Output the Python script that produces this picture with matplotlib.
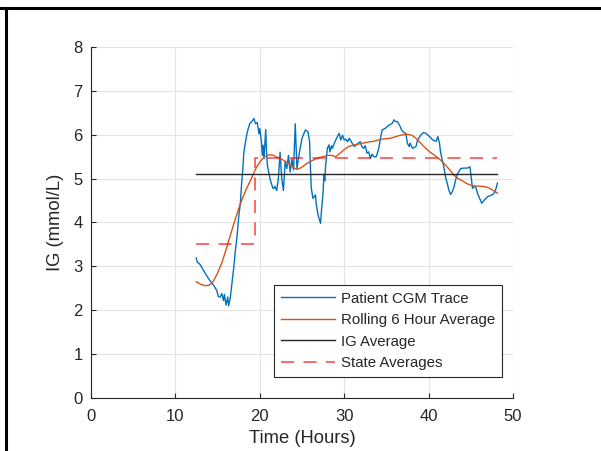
import matplotlib
matplotlib.use("Agg")
import matplotlib.pyplot as plt
from matplotlib.lines import Line2D

plt.rcParams['font.family'] = ['Liberation Sans', 'DejaVu Sans']
plt.rcParams['lines.scale_dashes'] = False

# CGM trace (hours, mmol/L)
cgm_time = [12.47, 12.6, 12.8, 13.0, 13.3, 13.6, 14.0, 14.3, 14.6, 14.9,
            15.1, 15.3, 15.5, 15.7, 15.8, 16.0, 16.2, 16.3, 16.5, 16.7,
            16.9, 17.1, 17.3, 17.5, 17.7, 17.85, 18.0, 18.1, 18.3, 18.5,
            18.8, 19.1, 19.3, 19.5, 19.7, 19.9, 20.0, 20.2, 20.3, 20.4,
            20.5, 20.7, 20.8, 20.9, 21.2, 21.5, 21.6, 21.8, 22.0, 22.2,
            22.4, 22.6, 22.8, 23.0, 23.2, 23.4, 23.6, 23.8, 24.0, 24.2,
            24.4, 24.7, 25.0, 25.4, 25.7, 25.9, 26.0, 26.1, 26.3, 26.6,
            26.7, 26.9, 27.2, 27.3, 27.5, 27.6, 27.7, 27.8, 28.0, 28.2,
            28.3, 28.5, 28.6, 28.9, 29.2, 29.4, 29.6, 29.8, 30.0, 30.2,
            30.4, 30.6, 30.9, 31.2, 31.6, 31.9, 32.1, 32.3, 32.5, 32.7,
            32.9, 33.1, 33.3, 33.5, 33.8, 34.1, 34.3, 34.5, 34.9, 35.3,
            35.7, 35.9, 36.1, 36.3, 36.6, 36.8, 37.1, 37.3, 37.5, 37.7,
            37.8, 38.1, 38.5, 38.7, 39.1, 39.4, 39.7, 40.1, 40.5, 40.9,
            41.1, 41.3, 41.4, 41.8, 42.0, 42.2, 42.4, 42.6, 42.8, 43.0,
            43.2, 43.4, 43.8, 44.2, 44.6, 44.9, 45.1, 45.2, 45.4, 45.6,
            45.8, 46.1, 46.3, 46.6, 47.0, 47.4, 47.6, 47.8, 48.0, 48.15]
cgm_ig = [3.19, 3.09, 3.07, 3.02, 2.92, 2.82, 2.70, 2.62, 2.55, 2.45,
          2.31, 2.30, 2.38, 2.22, 2.36, 2.12, 2.30, 2.10, 2.28, 2.61,
          2.95, 3.35, 3.68, 4.13, 4.45, 4.90, 5.25, 5.58, 5.83, 6.05,
          6.25, 6.31, 6.37, 6.25, 6.28, 6.02, 6.14, 5.83, 5.53, 5.76,
          5.45, 6.12, 5.60, 5.30, 5.00, 4.81, 4.77, 4.82, 4.73, 5.00,
          5.60, 5.00, 4.73, 5.38, 5.23, 5.53, 5.15, 5.45, 5.20, 6.25,
          5.23, 5.61, 5.92, 6.11, 6.07, 5.84, 5.24, 4.78, 4.55, 4.63,
          4.40, 4.17, 3.98, 4.25, 4.70, 5.10, 4.95, 5.30, 5.69, 5.77,
          5.61, 5.75, 5.69, 5.84, 5.96, 6.03, 5.88, 5.99, 5.88, 5.90,
          5.84, 5.92, 5.82, 5.73, 5.80, 5.84, 5.73, 5.69, 5.75, 5.58,
          5.61, 5.46, 5.56, 5.50, 5.50, 5.69, 5.92, 6.11, 6.15, 6.22,
          6.26, 6.34, 6.30, 6.30, 6.20, 6.11, 6.05, 6.03, 5.80, 5.73,
          5.81, 5.69, 5.73, 5.88, 6.00, 6.05, 6.03, 5.96, 5.88, 5.85,
          5.96, 5.80, 5.62, 5.27, 5.04, 4.90, 4.74, 4.64, 4.70, 4.80,
          4.97, 5.10, 5.23, 5.24, 5.24, 5.27, 4.95, 4.78, 4.82, 4.80,
          4.66, 4.53, 4.44, 4.51, 4.59, 4.62, 4.64, 4.68, 4.78, 4.90]

# rolling 6 hour average
roll_time = [12.47, 13.0, 13.5, 14.0, 14.5, 15.0, 15.5, 16.0, 16.5, 17.0,
             17.5, 18.0, 18.5, 19.0, 19.5, 20.0, 20.5, 21.0, 21.5, 22.0,
             22.5, 23.0, 23.5, 24.0, 24.4, 24.8, 25.2, 25.6, 26.0, 26.5,
             27.0, 27.5, 28.0, 28.5, 29.0, 29.5, 30.0, 30.5, 31.0, 31.5,
             32.0, 32.5, 33.0, 33.5, 34.0, 34.5, 35.0, 35.5, 36.0, 36.5,
             37.0, 37.5, 38.0, 38.5, 39.0, 39.5, 40.0, 40.5, 41.0, 41.5,
             42.0, 42.5, 43.0, 43.5, 44.0, 44.5, 45.0, 45.5, 46.0, 46.5,
             47.0, 47.5, 48.15]
roll_ig = [2.65, 2.59, 2.56, 2.57, 2.66, 2.85, 3.08, 3.38, 3.70, 4.02,
           4.32, 4.58, 4.80, 5.00, 5.22, 5.38, 5.49, 5.54, 5.54, 5.49,
           5.45, 5.40, 5.33, 5.25, 5.21, 5.24, 5.29, 5.35, 5.39, 5.44,
           5.48, 5.50, 5.53, 5.53, 5.50, 5.58, 5.66, 5.73, 5.76, 5.78,
           5.80, 5.82, 5.84, 5.85, 5.88, 5.90, 5.91, 5.92, 5.95, 5.98,
           6.00, 6.01, 5.99, 5.92, 5.82, 5.72, 5.63, 5.56, 5.49, 5.41,
           5.31, 5.20, 5.08, 5.00, 4.95, 4.89, 4.85, 4.83, 4.83, 4.82,
           4.80, 4.75, 4.67]

ig_average = 5.1
state_edges = [12.47, 19.4, 48.15]
state_means = [3.5, 5.48]

axis_color = '#262626'

fig = plt.figure(figsize=(6.01, 4.51), dpi=100)
ax = fig.add_axes([91 / 601, 53 / 451, 422 / 601, 351 / 451])

ax.plot(cgm_time, cgm_ig, color='#0072BD', lw=1.0, label='Patient CGM Trace')
ax.plot(roll_time, roll_ig, color='#D95319', lw=1.0, label='Rolling 6 Hour Average')
ax.plot([state_edges[0], state_edges[-1]], [ig_average, ig_average],
        color=axis_color, lw=1.0, label='IG Average')
ax.plot(state_edges, state_means + [state_means[-1]], drawstyle='steps-post',
        color='red', alpha=0.75, lw=1.1, dashes=(9.4, 6.8), label='State Averages')

ax.set_xlim(0, 50)
ax.set_ylim(0, 8)
ax.set_xticks(range(0, 51, 10))
ax.set_yticks(range(0, 9))
ax.grid(True, color='#e3e3e3', lw=0.8)
ax.set_axisbelow(True)

for side in ('top', 'right'):
    ax.spines[side].set_visible(False)
for side in ('left', 'bottom'):
    ax.spines[side].set_color(axis_color)
    ax.spines[side].set_linewidth(0.8)
ax.tick_params(direction='in', length=3.5, width=0.8, color=axis_color,
               labelcolor=axis_color, labelsize=12, pad=6)
ax.tick_params(axis='x', pad=8)

ax.set_xlabel('Time (Hours)', fontsize=13.2, color=axis_color, labelpad=4)
ax.set_ylabel('IG (mmol/L)', fontsize=13.2, color=axis_color, labelpad=7)

leg = ax.legend(loc='lower right', bbox_to_anchor=(0.974, 0.06), borderaxespad=0,
                fontsize=10.8, fancybox=False, framealpha=1, edgecolor=axis_color,
                handlelength=3.6, handletextpad=0.4, borderpad=0.45,
                labelspacing=0.5)
leg.get_frame().set_linewidth(0.8)
for txt in leg.get_texts():
    txt.set_color(axis_color)

# outer frame edges
fig.add_artist(Line2D([0, 1], [1 - 7.5 / 451] * 2, color='black', lw=2.2,
                      transform=fig.transFigure))
fig.add_artist(Line2D([5.5 / 601] * 2, [0, 1 - 7.5 / 451], color='black', lw=2.2,
                      transform=fig.transFigure))

fig.savefig('out.png', dpi=100)
